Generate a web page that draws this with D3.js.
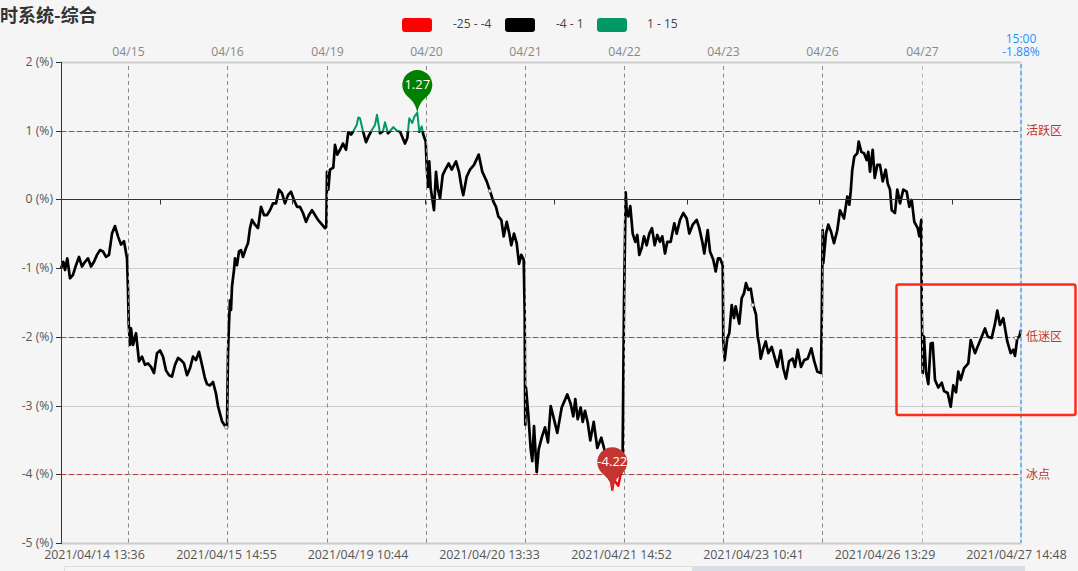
<!DOCTYPE html>
<html lang="zh">
<head>
<meta charset="utf-8">
<script src="https://cdn.jsdelivr.net/npm/d3@7"></script>
<style>
html,body{margin:0;padding:0;background:#f5f5f5;overflow:hidden}
svg{display:block}
text{font-family:"Open Sans","Noto Sans CJK SC",sans-serif}
.cjk{font-family:"Noto Sans CJK SC",sans-serif}
</style>
</head>
<body>
<svg id="c" width="1078" height="571"></svg>
<script>
// ---------- data ----------
const title = "时系统-综合";
const yTicks = [2,1,0,-1,-2,-3,-4,-5];
const sessionLabels = ["04/15","04/16","04/19","04/20","04/21","04/22","04/23","04/26","04/27"];
const sessionBars = [67.6,166.9,266,365.3,464,563.3,662.5,761.8,861];
const timeLabels = ["2021/04/14 13:36","2021/04/15 14:55","2021/04/19 10:44","2021/04/20 13:33","2021/04/21 14:52","2021/04/23 10:41","2021/04/26 13:29","2021/04/27 14:48"];
const timeLabelBars = [34,166,297.5,429,561,693,824.5,956];
const minorTickBars = [99,231,364,494,626,758,891];
const zoneValues = [1,-2,-4];
const zoneLabels = {"1":"活跃区","-2":"低迷区","-4":"冰点"};
const legendLabels = ["-25 - -4","-4 - 1","1 - 15"];
const legendColors = ["#ff0000","#000000","#009966"];
const hoverBars = [165,428.7,691.7,954.7];
const lastTime = "15:00", lastValue = "-1.88%";

const s0414 = [[0,-1],[2.3,-.9],[4,-1.02],[6.3,-.85],[9,-1.14],[12,-1.09],[15,-.95],[18,-.83],[21,-.97],[24,-.9],[27,-.85],[30,-.97],[33,-.9],[36,-.8],[39,-.73],[42,-.75],[45,-.83],[48,-.8],[51,-.49],[54,-.38],[57,-.53],[60,-.65],[63,-.6],[66,-.85]];
const s0415 = [[67,-1.31],[67.7,-1.8],[69,-2.11],[70,-1.87],[72,-2.11],[75,-1.94],[78,-2.35],[81,-2.28],[84,-2.4],[87,-2.38],[90,-2.43],[93,-2.52],[96,-2.23],[99,-2.19],[102,-2.28],[105,-2.48],[108,-2.55],[111,-2.57],[114,-2.4],[117,-2.3],[120,-2.33],[123,-2.38],[126,-2.55],[129,-2.45],[132,-2.28],[135,-2.33],[138,-2.21],[141,-2.4],[144,-2.6],[146,-2.68],[149,-2.7],[152,-2.65],[155,-2.82],[157,-3],[159,-3.11],[161,-3.22],[164,-3.29],[166,-3.31]];
const s0416 = [[167,-2.23],[168,-1.8],[169,-1.46],[170,-1.6],[171,-1.26],[173,-1.02],[174,-.85],[176,-.95],[178,-.75],[180,-.73],[182,-.83],[185,-.7],[187,-.63],[189,-.41],[191,-.29],[194,-.36],[197,-.41],[200,-.1],[203,-.22],[206,-.22],[209,-.15],[212,-.05],[215,-.05],[218,.15],[221,.1],[224,-.05],[227,.07],[230,.12],[233,0],[236,-.1],[239,-.1],[242,-.19],[245,-.32],[248,-.22],[251,-.15],[254,-.22],[257,-.29],[260,-.34],[264,-.41],[265.3,-.39]];
const s0419 = [[266,.41],[267.3,.15],[269,.44],[272.3,.47],[274,.8],[276.3,.66],[279,.73],[282,.82],[285,.73],[287.3,.99],[290,.95],[292.3,1],[295.7,1.09],[297.3,1.2],[299,1.19],[302,1],[305,.84],[308,.94],[311,1.02],[314,1.09],[316,1.24],[319,.97],[322,1],[324,1.13],[327,.97],[329,1],[332.3,1.06],[335.7,1.01],[339,.995],[341.7,.9],[344,.82],[346.3,.9],[348.3,1.19],[351.3,1.12],[353.3,1.21],[356.3,1.27],[358.3,.995],[360.7,1.07],[362.3,.95],[364.7,.85]];
const s0420 = [[365.7,.49],[367,.19],[368.3,.56],[369.7,.17],[373,-.15],[375,.41],[376.7,.17],[379,.02],[381.7,.36],[384.3,.44],[387.7,.53],[390.7,.44],[395,.56],[398,.41],[400.7,.17],[402.3,.07],[405.7,.34],[409,.44],[413,.51],[417.7,.66],[421.3,.41],[425.7,.27],[429,.13],[432.3,-.02],[435,-.1],[437.3,-.24],[440.3,-.29],[442.7,-.53],[445.7,-.32],[448.3,-.49],[450.3,-.66],[453,-.49],[455.7,-.63],[458,-.93],[460.3,-.8],[462.7,-.87],[463.7,-1.65]];
const s0421 = [[464,-2.64],[464.3,-3.27],[465,-2.73],[467.3,-3.12],[469.7,-3.63],[471.3,-3.8],[473,-3.29],[475.7,-3.96],[477.7,-3.63],[480.7,-3.46],[484,-3.31],[487,-3.53],[489.7,-3],[492.3,-3.15],[496.3,-3.39],[500.7,-3.02],[506.3,-2.83],[509.7,-2.97],[512.3,-3.15],[514.3,-2.9],[516.7,-3.19],[519.7,-3.02],[521.7,-3.23],[524,-3.07],[526.7,-3.24],[529.3,-3.5],[532.7,-3.23],[536.3,-3.61],[540.3,-3.46],[543,-3.61],[546,-3.8],[549,-4],[551.3,-4.22],[553,-4.07],[557.3,-4.16],[559.7,-3.99],[561.5,-3.9]];
const s0422 = [[563,-1.5],[564.7,.11],[565.7,-.17],[567.3,-.24],[569.3,-.09],[571.7,-.49],[574.3,-.61],[576.3,-.51],[578.3,-.8],[580.7,-.7],[583,-.53],[585.7,-.66],[588.3,-.49],[591,-.41],[593.7,-.66],[596.3,-.51],[599,-.61],[601.3,-.53],[604,-.78],[606.3,-.61],[609.7,-.61],[613.3,-.34],[615.7,-.49],[619,-.29],[622.3,-.19],[625.7,-.27],[628.3,-.49],[631.7,-.36],[635.7,-.29],[638.3,-.41],[641.3,-.61],[643.3,-.78],[646.7,-.44],[649,-.75],[652.3,-.87],[654.7,-1.04],[657,-.85],[659,-.85],[661.7,-.95]];
const s0423 = [[662.3,-2.06],[663.7,-2.33],[666.3,-2.01],[668.3,-1.94],[670.7,-1.53],[673,-1.72],[674.7,-1.55],[678.3,-1.8],[680.7,-1.43],[683,-1.36],[685,-1.21],[687.3,-1.31],[689.7,-1.29],[692.3,-1.53],[695,-1.67],[696.7,-1.99],[698.3,-2.11],[699.7,-2.31],[702.3,-2.16],[704.7,-2.06],[707.3,-2.23],[710.7,-2.14],[714,-2.31],[716.3,-2.43],[719.7,-2.19],[722.3,-2.45],[725,-2.6],[728,-2.35],[731.7,-2.31],[734,-2.43],[736.7,-2.18],[740,-2.43],[743.3,-2.33],[746.7,-2.31],[750.3,-2.16],[753.3,-2.35],[756.3,-2.5],[760,-2.52]];
const s0426 = [[760.7,-1.8],[761.7,-.44],[762.3,-.92],[765,-.49],[767.3,-.36],[770,-.46],[773,-.63],[776.3,-.44],[779,-.15],[783,-.27],[786.3,.05],[788.3,-.07],[789.7,.12],[791.3,.44],[793.3,.63],[796.3,.68],[797.7,.85],[800.3,.7],[803,.68],[805.7,.58],[807.3,.7],[809,.41],[811.7,.73],[813.7,.32],[816.3,.51],[819,.51],[821.7,.27],[824.7,.44],[826.7,.24],[829,.15],[830.7,-.15],[834,-.19],[836.3,.15],[839,-.05],[842.3,.15],[845.7,.12],[848.3,-.1],[850.7,0],[853.3,-.32],[856.7,-.41],[858.3,-.53],[860.3,-.29]];
const s0427 = [[860.7,-1.5],[861.7,-2.52],[863,-1.99],[865,-2.5],[867.3,-2.68],[869.7,-2.09],[871.7,-2.08],[874,-2.62],[877.3,-2.73],[880.7,-2.66],[883,-2.78],[886.7,-2.81],[889.7,-3.01],[892.3,-2.7],[895,-2.8],[897.3,-2.5],[899.7,-2.62],[903,-2.45],[907.3,-2.38],[909.7,-2.04],[914,-2.23],[917.3,-2.11],[920.7,-1.99],[924,-1.87],[926.7,-1.99],[930.7,-2.01],[934,-1.8],[936.3,-1.61],[939,-1.82],[942.3,-1.72],[946.3,-2.06],[949.7,-2.23],[952.3,-2.18],[954,-2.27],[956.3,-2.01],[958.3,-1.99],[960,-1.89]];
const series = [s0414,s0415,s0416,s0419,s0420,s0421,s0422,s0423,s0426,s0427].flat();

// ---------- scales ----------
const x = d3.scaleLinear().domain([0,960]).range([61,1021]);
const y = d3.scaleLinear().domain([-5,2]).range([543.5,62.5]);
const crisp = v => Math.floor(v)+.5;
const svg = d3.select("#c");
const INK="#555", RED="#c23531", BLUE="#1e90ff";

svg.append("rect").attr("width",1078).attr("height",571).attr("fill","#f5f5f5");

// title
svg.append("text").attr("class","cjk").attr("x",0).attr("y",22).attr("font-size",18).attr("font-weight",700).attr("fill","#333").text(title);

// legend
const legendRectX=[402,505,597], legendTextX=[453,556,647];
legendLabels.forEach((t,i)=>{
  svg.append("rect").attr("x",legendRectX[i]).attr("y",18).attr("width",30).attr("height",14).attr("rx",3).attr("fill",legendColors[i]);
  svg.append("text").attr("x",legendTextX[i]).attr("y",28).attr("font-size",12).attr("fill","#444").text(t);
});

// horizontal grid
yTicks.forEach(v=>{
  const yy=crisp(y(v));
  if(v===0||zoneValues.includes(v)) return;
  svg.append("line").attr("x1",61).attr("x2",1021).attr("y1",yy).attr("y2",yy)
    .attr("stroke","#ccc").attr("stroke-width",(v===2||v===-5)?2:1);
});
svg.append("line").attr("x1",1021).attr("x2",1021).attr("y1",62).attr("y2",543).attr("stroke","#ddd").attr("stroke-width",2);
zoneValues.forEach(v=>{
  const yy=crisp(y(v));
  svg.append("line").attr("x1",61).attr("x2",1021).attr("y1",yy).attr("y2",yy).attr("stroke","#ccc");
  svg.append("line").attr("x1",61).attr("x2",1021).attr("y1",yy).attr("y2",yy)
    .attr("stroke",RED).attr("stroke-dasharray","5,3");
  svg.append("text").attr("class","cjk").attr("x",1026).attr("y",y(v)+4).attr("font-size",12).attr("fill",RED).text(zoneLabels[v]);
});

// series, split by colour band
const defs=svg.append("defs");
const bands=[[-25,-4,"#ff0000",2.4],[-4,1,"#000000",2.7],[1,15,"#009966",2]];
const line=d3.line().x(d=>x(d[0])).y(d=>y(d[1]));
bands.forEach((b,i)=>{
  const top=y(b[1]), bot=y(b[0]);
  defs.append("clipPath").attr("id","band"+i).append("rect").attr("x",0).attr("width",1078).attr("y",top).attr("height",bot-top);
  svg.append("path").datum(series).attr("d",line).attr("fill","none").attr("stroke",b[2])
    .attr("stroke-width",b[3]).attr("stroke-linejoin","round").attr("clip-path",`url(#band${i})`);
});

// zero line + ticks
svg.append("line").attr("x1",61).attr("x2",1021).attr("y1",crisp(y(0))).attr("y2",crisp(y(0))).attr("stroke","#333");
minorTickBars.forEach(b=>{
  svg.append("line").attr("x1",crisp(x(b))).attr("x2",crisp(x(b))).attr("y1",crisp(y(0))).attr("y2",crisp(y(0))+5).attr("stroke","#333");
});

// session lines and labels
sessionBars.forEach((b,i)=>{
  const xx=crisp(x(b));
  svg.append("line").attr("x1",xx).attr("x2",xx).attr("y1",66).attr("y2",543)
    .attr("stroke",i===8?"#b5b5b5":"#888").attr("stroke-dasharray","4,3.5");
  svg.append("text").attr("x",xx).attr("y",55.5).attr("text-anchor","middle").attr("font-size",12.2).attr("fill","#888").text(sessionLabels[i]);
});

// last-point line and two-line label
svg.append("line").attr("x1",x(960)).attr("x2",x(960)).attr("y1",64).attr("y2",543)
  .attr("stroke","#4da6ff").attr("stroke-width",1.5).attr("stroke-dasharray","4,3");
const lastLabel=svg.append("text").attr("text-anchor","middle").attr("font-size",12).attr("fill",BLUE);
lastLabel.append("tspan").attr("x",x(960)).attr("y",42.5).text(lastTime);
lastLabel.append("tspan").attr("x",x(960)).attr("y",55.5).text(lastValue);

// small hollow hover points
const bis=d3.bisector(d=>d[0]).left;
hoverBars.forEach(b=>{
  const d=series[Math.min(bis(series,b),series.length-1)];
  svg.append("circle").attr("cx",x(b)).attr("cy",y(d[1])).attr("r",1.6).attr("fill","#fff").attr("stroke","#777").attr("stroke-width",.8);
});

// left axis
svg.append("line").attr("x1",61.5).attr("x2",61.5).attr("y1",62).attr("y2",544).attr("stroke","#333");
yTicks.forEach(v=>{
  const yy=crisp(y(v));
  svg.append("line").attr("x1",56).attr("x2",61).attr("y1",yy).attr("y2",yy).attr("stroke","#333");
  svg.append("text").attr("x",53).attr("y",yy+3.5).attr("text-anchor","end").attr("font-size",12.2).attr("fill",INK).text(`${v} (%)`);
});

// bottom labels
timeLabels.forEach((t,i)=>{
  svg.append("text").attr("x",x(timeLabelBars[i])-.5).attr("y",559).attr("text-anchor","middle").attr("font-size",12.4).attr("fill",INK).text(t);
});

// slider strip at the bottom
svg.append("rect").attr("x",64.5).attr("y",566.5).attr("width",960).attr("height",8).attr("fill","none").attr("stroke","#ddd");
svg.append("rect").attr("x",692).attr("y",566).attr("width",332).attr("height",6).attr("fill","#d8dde6");

// max/min pins
function pin(d,color){
  const g=svg.append("g").attr("transform",`translate(${x(d[0])},${y(d[1])})`);
  g.append("path").attr("fill",color).attr("d","M0,0 C-1.5,-8 -5,-12.5 -10,-16.5 A15,15 0 1 1 10,-16.5 C5,-12.5 1.5,-8 0,0 Z");
  g.append("text").attr("x",0).attr("y",-23.5).attr("text-anchor","middle").attr("font-size",13).attr("fill","#fff").text(d[1].toFixed(2));
}
const hi=series[d3.greatestIndex(series,d=>d[1])], lo=series[d3.leastIndex(series,d=>d[1])];
pin(hi,"#008000");
pin(lo,RED);

// annotation box
svg.append("rect").attr("x",896.5).attr("y",284.5).attr("width",179).attr("height",130.5).attr("rx",2)
  .attr("fill","none").attr("stroke","#ff2a1a").attr("stroke-width",2.5);
</script>
</body>
</html>
